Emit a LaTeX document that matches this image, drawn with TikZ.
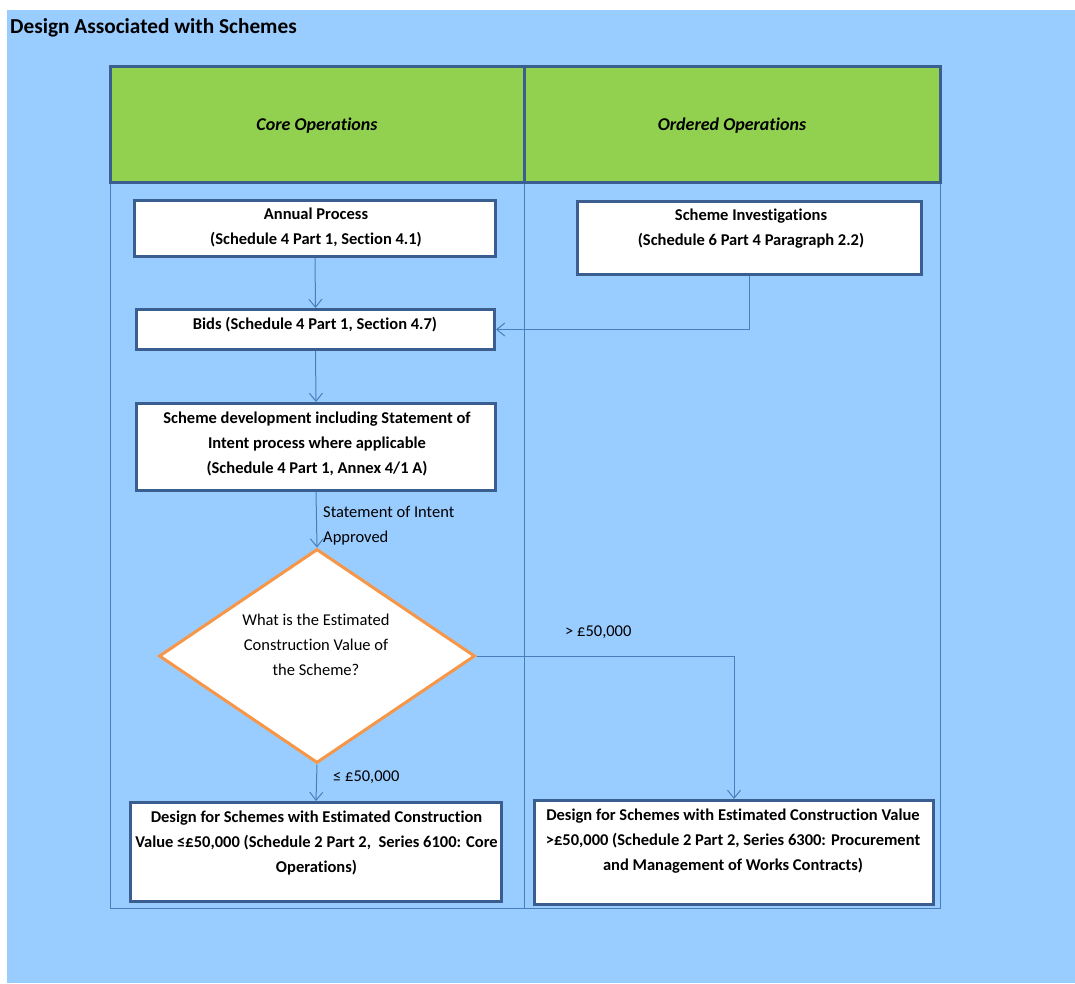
\documentclass[tikz,border=0pt]{standalone}
\usepackage{fontspec}
\setmainfont{Carlito}[Ligatures=NoCommon]
\usetikzlibrary{shapes.geometric,arrows.meta}
\definecolor{bgblue}{HTML}{99CCFF}
\definecolor{headgreen}{HTML}{92D050}
\definecolor{boxblue}{HTML}{3B5E91}
\definecolor{lineblue}{HTML}{4A7EBB}
\definecolor{decorange}{HTML}{F79646}
\tikzset{
	lanehead/.style={draw=boxblue,line width=3pt,fill=headgreen,inner sep=0pt,text depth=0pt,font=\bfseries\itshape\fontsize{18}{22}\selectfont},
	laneline/.style={draw=lineblue,line width=1pt},
	stepbox/.style={draw=boxblue,line width=3pt,fill=white,inner sep=0pt},
	boxtext/.style={anchor=north,align=center,inner sep=0pt,font=\bfseries\fontsize{16.5}{25}\selectfont,execute at begin node=\strut},
	plaintext/.style={align=center,inner sep=0pt,font=\fontsize{16.5}{25}\selectfont},
	decision/.style={diamond,draw=decorange,line width=3pt,fill=white,inner sep=0pt},
	flow/.style={draw=lineblue,line width=1pt,-{Straight Barb[length=8pt,width=13pt]}},
}
\begin{document}
\begin{tikzpicture}[x=1pt,y=1pt,yscale=-1,xscale=1]
	\useasboundingbox (0,0) rectangle (1075,983);
	\fill [bgblue] (7,10) rectangle (1075,983);

	\node (title) [anchor=base west,inner sep=0pt,font=\bfseries\fontsize{21.3}{25}\selectfont] at (10,33.5) {Design Associated with Schemes};

	\draw [laneline] (110,182) -- (110,908) -- (940,908) -- (940,182);
	\draw [laneline] (524,182) -- (524,908);
	\node (corehead) [lanehead,minimum width=414pt,minimum height=116pt] at (317,124) {Core Operations};
	\node (ordhead) [lanehead,minimum width=416pt,minimum height=116pt] at (732,124) {Ordered Operations};

	\node (annual) [stepbox,minimum width=361pt,minimum height=56pt] at (315,228.5) {};
	\node (bids) [stepbox,minimum width=358pt,minimum height=40pt] at (315.5,329.5) {};
	\node (inv) [stepbox,minimum width=344pt,minimum height=73pt] at (749.5,238) {};
	\node (dev) [stepbox,minimum width=359pt,minimum height=87pt] at (316,447) {};
	\node (choice) [decision,minimum width=316pt,minimum height=214pt] at (317,656) {};
	\node (low) [stepbox,minimum width=371pt,minimum height=99pt] at (316,852) {};
	\node (high) [stepbox,minimum width=399pt,minimum height=104pt] at (734,852.5) {};

	\draw [flow] (annual.south) -- (bids.north);
	\draw [flow] (inv.south) |- (bids.east);
	\draw [flow] (bids.south) -- (dev.north);
	\draw [flow] (dev.south) -- (choice.north);
	\draw [flow] (choice.south) -- (low.north);
	\draw [flow] (choice.east) -| (high.north);

	\node (annualtxt) [boxtext] at (316,208) {Annual Process\\(Schedule 4 Part 1, Section 4.1)};
	\node (bidstxt) [boxtext] at (315,312) {Bids (Schedule 4 Part 1, Section 4.7)};
	\node (invtxt) [boxtext] at (751,209) {Scheme Investigations\\(Schedule 6 Part 4 Paragraph 2.2)};
	\node (devtxt) [boxtext] at (317,411.5) {Scheme development including Statement of\\Intent process where applicable\\(Schedule 4 Part 1, Annex 4/1 A)};
	\node (choicetxt) [plaintext] at (316,645) {What is the Estimated\\Construction Value of\\the Scheme?};
	\node (lowtxt) [boxtext] at (316.5,811) {Design for Schemes with Estimated Construction\\Value ≤£50,000 (Schedule 2 Part 2,\ \ Series 6100: Core\\Operations)};
	\node (hightxt) [boxtext] at (733,809) {Design for Schemes with Estimated Construction Value\\>£50,000 (Schedule 2 Part 2, Series 6300: Procurement\\and Management of Works Contracts)};

	\node (sointxt) [plaintext,anchor=north west,align=left,execute at begin node=\strut] at (323,506) {Statement of Intent\\Approved};
	\node (lowlbl) [plaintext,anchor=west] at (333,777.5) {≤ £50,000};
	\node (highlbl) [plaintext,anchor=west] at (565,632) {> £50,000};
\end{tikzpicture}
\end{document}
